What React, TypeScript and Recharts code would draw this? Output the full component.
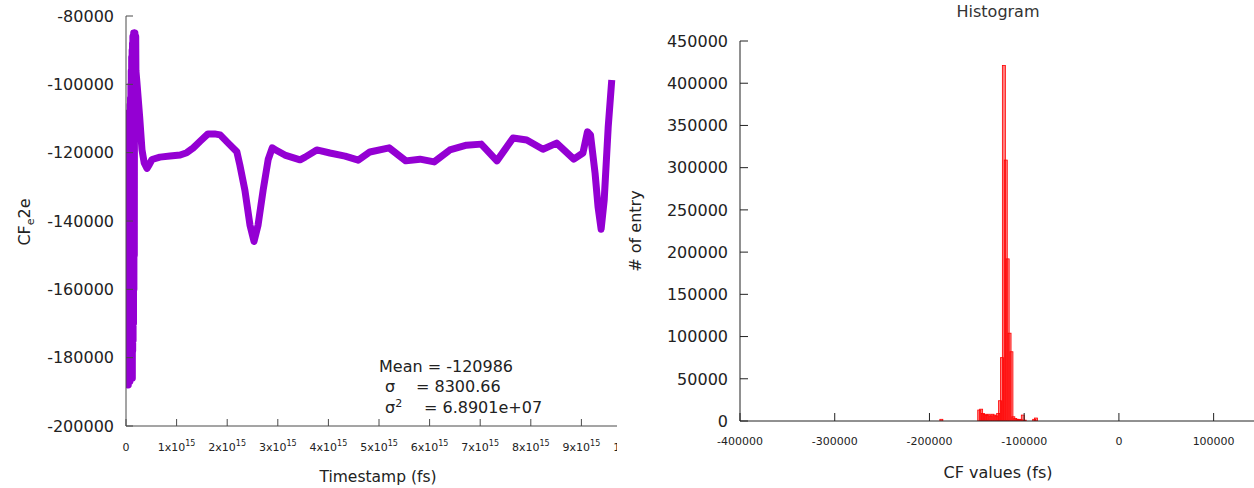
import React from "react";
import { LineChart, Line, XAxis, YAxis, BarChart, Bar } from "recharts";

// time series (timestamp in fs, CF_e2e value)
const TIMESTAMPS = [
  0, 0.004e15, 0.008e15, 0.012e15, 0.016e15, 0.02e15, 0.024e15, 0.028e15, 0.032e15, 0.037e15,
  0.041e15, 0.045e15, 0.049e15, 0.053e15, 0.057e15, 0.061e15, 0.065e15, 0.069e15, 0.073e15, 0.077e15,
  0.081e15, 0.085e15, 0.089e15, 0.093e15, 0.097e15, 0.1e15, 0.104e15, 0.108e15, 0.112e15, 0.117e15,
  0.121e15, 0.125e15, 0.129e15, 0.132e15, 0.136e15, 0.14e15, 0.144e15, 0.148e15, 0.152e15, 0.156e15,
  0.16e15, 0.164e15, 0.168e15, 0.172e15, 0.176e15, 0.18e15, 0.184e15, 0.188e15, 0.192e15, 0.196e15,
  0.217e15, 0.27e15, 0.316e15, 0.36e15, 0.415e15, 0.46e15, 0.514e15, 0.67e15, 0.87e15, 1.07e15,
  1.2e15, 1.33e15, 1.47e15, 1.62e15, 1.75e15, 1.86e15, 2.02e15, 2.19e15, 2.25e15, 2.35e15,
  2.45e15, 2.53e15, 2.61e15, 2.71e15, 2.81e15, 2.89e15, 2.96e15, 3.14e15, 3.44e15, 3.54e15,
  3.77e15, 4.03e15, 4.33e15, 4.59e15, 4.82e15, 5.2e15, 5.53e15, 5.81e15, 6.09e15, 6.4e15,
  6.73e15, 7.02e15, 7.33e15, 7.65e15, 7.92e15, 8.24e15, 8.51e15, 8.85e15, 9.03e15, 9.12e15,
  9.18e15, 9.27e15, 9.33e15, 9.39e15, 9.45e15, 9.53e15, 9.6e15,
];
const CF_E2E = [
  -160000, -187000, -157000, -187000, -158000, -187000, -157000, -187000, -140000, -187000,
  -130000, -188000, -128000, -187000, -125000, -187000, -108000, -187000, -110000, -187000,
  -106000, -186000, -104000, -186000, -100000, -185000, -96000, -185000, -92000, -186000,
  -90000, -186000, -88000, -178000, -86000, -175000, -86000, -170000, -85000, -160000,
  -86000, -150000, -85000, -108000, -85000, -106000, -86000, -104000, -86000, -96000,
  -99600, -109500, -119200, -123000, -124600, -123500, -122000, -121300, -121000, -120700,
  -120000, -118600, -116600, -114500, -114500, -114800, -117200, -119700, -123600, -131000,
  -141200, -146000, -141200, -131000, -122000, -118600, -119200, -120700, -122100, -121300,
  -119200, -120100, -121000, -122200, -119800, -118600, -122400, -121900, -122700, -119200,
  -117800, -117500, -122400, -115700, -116300, -119000, -117200, -121900, -120100, -113900,
  -114800, -126000, -136000, -142400, -134000, -112400, -98700,
];
const TIME_TICKS = [0, 1e15, 2e15, 3e15, 4e15, 5e15, 6e15, 7e15, 8e15, 9e15, 1e16];
const CF_TICKS = [-200000, -180000, -160000, -140000, -120000, -100000, -80000];
const STAT_MEAN = "Mean = -120986";
const STAT_SIGMA = "= 8300.66";
const STAT_VAR = "= 6.8901e+07";

// histogram bins (bin centre, # of entry)
const CF_BINS = [
  -187500, -147500, -145500, -143500, -141500, -139500, -137500, -135500, -133500, -131500,
  -129500, -127500, -125500, -123500, -121500, -119500, -117500, -115500, -113500, -111500,
  -109500, -107500, -105500, -103500, -101500, -99500, -89500, -87500,
];
const ENTRY_COUNTS = [
  2000, 13000, 14000, 9000, 8000, 7000, 8000, 6000, 8000, 7000,
  6000, 9000, 24000, 75000, 421000, 309000, 192000, 104000, 82000, 5000,
  3000, 2000, 2000, 1500, 7000, 1000, 2000, 3500,
];
const HIST_X_TICKS = [-400000, -300000, -200000, -100000, 0, 100000];
const HIST_Y_TICKS = [0, 50000, 100000, 150000, 200000, 250000, 300000, 350000, 400000, 450000];

const lineData = TIMESTAMPS.map((t, i) => ({ t, v: CF_E2E[i] }));
const histData = CF_BINS.map((x, i) => ({ x, n: ENTRY_COUNTS[i] }));

const FONT = "'DejaVu Sans', sans-serif";
const TEXT = "#222";
const AXIS_L = "#4a4a4a";
const AXIS_R = "#222";

function TimeTick({ x, y, payload }: any) {
  const n = Math.round(payload.value / 1e15);
  const base = n === 10 ? "1x10" : `${n}x10`;
  const exp = n === 10 ? "16" : "15";
  return (
    <g>
      <line x1={x} x2={x} y1={y} y2={y - 7} stroke={AXIS_L} />
      <text x={x} y={y + 25} textAnchor="middle" fontSize={11} fill={TEXT} fontFamily={FONT}>
        {n === 0 ? (
          "0"
        ) : (
          <>
            <tspan>{base}</tspan>
            <tspan dy={-5} fontSize={8}>{exp}</tspan>
          </>
        )}
      </text>
    </g>
  );
}

const TopTick = (color: string) => ({ x, y }: any) => (
  <line x1={x} x2={x} y1={y} y2={y + 7} stroke={color} />
);

const LeftTick = (color: string, len: number) => ({ x, y, payload }: any) => (
  <g>
    <line x1={x} x2={x + len} y1={y} y2={y} stroke={color} />
    <text x={x - 12} y={y} dy="0.36em" textAnchor="end" fontSize={16} fill={TEXT} fontFamily={FONT}>
      {payload.value}
    </text>
  </g>
);

const RightTick = ({ x, y }: any) => <line x1={x} x2={x - 8} y1={y} y2={y} stroke={AXIS_R} />;

function HistXTick({ x, y, payload }: any) {
  return (
    <g>
      <line x1={x} x2={x} y1={y} y2={y - 8} stroke={AXIS_R} />
      <text x={x} y={y + 24} textAnchor="middle" fontSize={11} fill={TEXT} fontFamily={FONT}>
        {payload.value}
      </text>
    </g>
  );
}

function HistBar({ x, y, width, height }: any) {
  if (!height) return null;
  return (
    <rect
      x={x + width / 2 - 1.5}
      y={y}
      width={3}
      height={height}
      fill="#ff0000"
      fillOpacity={0.5}
      stroke="#ff0000"
      strokeWidth={0.8}
    />
  );
}

export default function App() {
  return (
    <div
      style={{
        position: "absolute",
        left: 0,
        top: 0,
        width: 1254,
        height: 488,
        overflow: "hidden",
        background: "#fff",
      }}
    >
      <div style={{ position: "absolute", left: 0, top: 0, width: 617, height: 488, overflow: "hidden" }}>
        <LineChart width={640} height={488} data={lineData} margin={{ top: 16, right: 8, bottom: 0, left: 0 }}>
          <XAxis
            dataKey="t"
            type="number"
            domain={[0, 1e16]}
            allowDataOverflow
            ticks={TIME_TICKS}
            interval={0}
            height={62}
            tickSize={0}
            tickMargin={0}
            tick={TimeTick}
            stroke={AXIS_L}
          />
          <XAxis
            xAxisId="top"
            orientation="top"
            type="number"
            domain={[0, 1e16]}
            allowDataOverflow
            ticks={TIME_TICKS}
            interval={0}
            height={0}
            tickSize={0}
            tickMargin={0}
            tick={TopTick(AXIS_L)}
            stroke={AXIS_L}
          />
          <YAxis
            type="number"
            domain={[-200000, -80000]}
            allowDataOverflow
            ticks={CF_TICKS}
            interval={0}
            width={126}
            tickSize={0}
            tickMargin={0}
            tick={LeftTick(AXIS_L, 7)}
            stroke={AXIS_L}
          />
          <Line
            type="linear"
            dataKey="v"
            stroke="#9400d3"
            strokeWidth={7}
            strokeLinejoin="round"
            dot={false}
            isAnimationActive={false}
          />
        </LineChart>
      </div>

      <div style={{ position: "absolute", left: 620, top: 0, width: 651, height: 488 }}>
        <BarChart
          width={651}
          height={488}
          data={histData}
          margin={{ top: 41, right: 10, bottom: 0, left: 0 }}
          barCategoryGap={0}
        >
          <XAxis
            dataKey="x"
            type="number"
            domain={[-400000, 150000]}
            allowDataOverflow
            ticks={HIST_X_TICKS}
            interval={0}
            height={67}
            tickSize={0}
            tickMargin={0}
            tick={HistXTick}
            stroke={AXIS_R}
          />
          <XAxis
            xAxisId="top"
            orientation="top"
            type="number"
            domain={[-400000, 150000]}
            allowDataOverflow
            ticks={HIST_X_TICKS}
            interval={0}
            height={0}
            tickSize={0}
            tickMargin={0}
            tick={TopTick(AXIS_R)}
            stroke={AXIS_R}
          />
          <YAxis
            yAxisId="l"
            type="number"
            domain={[0, 450000]}
            allowDataOverflow
            ticks={HIST_Y_TICKS}
            interval={0}
            width={120}
            tickSize={0}
            tickMargin={0}
            tick={LeftTick(AXIS_R, 8)}
            stroke={AXIS_R}
          />
          <YAxis
            yAxisId="r"
            orientation="right"
            type="number"
            domain={[0, 450000]}
            allowDataOverflow
            ticks={HIST_Y_TICKS}
            interval={0}
            width={0}
            tickSize={0}
            tickMargin={0}
            tick={RightTick}
            stroke={AXIS_R}
          />
          <Bar yAxisId="l" dataKey="n" shape={HistBar} isAnimationActive={false} />
        </BarChart>
      </div>

      <svg
        width={1254}
        height={488}
        style={{ position: "absolute", left: 0, top: 0, pointerEvents: "none" }}
        fontFamily={FONT}
        fill={TEXT}
      >
        <text transform="rotate(-90, 30, 222)" x={30} y={222} textAnchor="middle" fontSize={16}>
          <tspan>CF</tspan>
          <tspan dy={4} fontSize={11}>e</tspan>
          <tspan dy={-4}>2e</tspan>
        </text>
        <text x={378} y={482} textAnchor="middle" fontSize={15.5}>
          Timestamp (fs)
        </text>
        <text x={379} y={372} fontSize={16}>{STAT_MEAN}</text>
        <text x={385} y={392} fontSize={16}>σ</text>
        <text x={416} y={392} fontSize={16}>{STAT_SIGMA}</text>
        <text x={385} y={413} fontSize={16}>
          <tspan>σ</tspan>
          <tspan dy={-6} fontSize={11}>2</tspan>
        </text>
        <text x={424} y={413} fontSize={16}>{STAT_VAR}</text>

        <text x={998} y={17} textAnchor="middle" fontSize={16} fill="#333">
          Histogram
        </text>
        <text transform="rotate(-90, 641, 231)" x={641} y={231} textAnchor="middle" fontSize={16}>
          # of entry
        </text>
        <text x={998} y={478} textAnchor="middle" fontSize={16}>
          CF values (fs)
        </text>
      </svg>
    </div>
  );
}
